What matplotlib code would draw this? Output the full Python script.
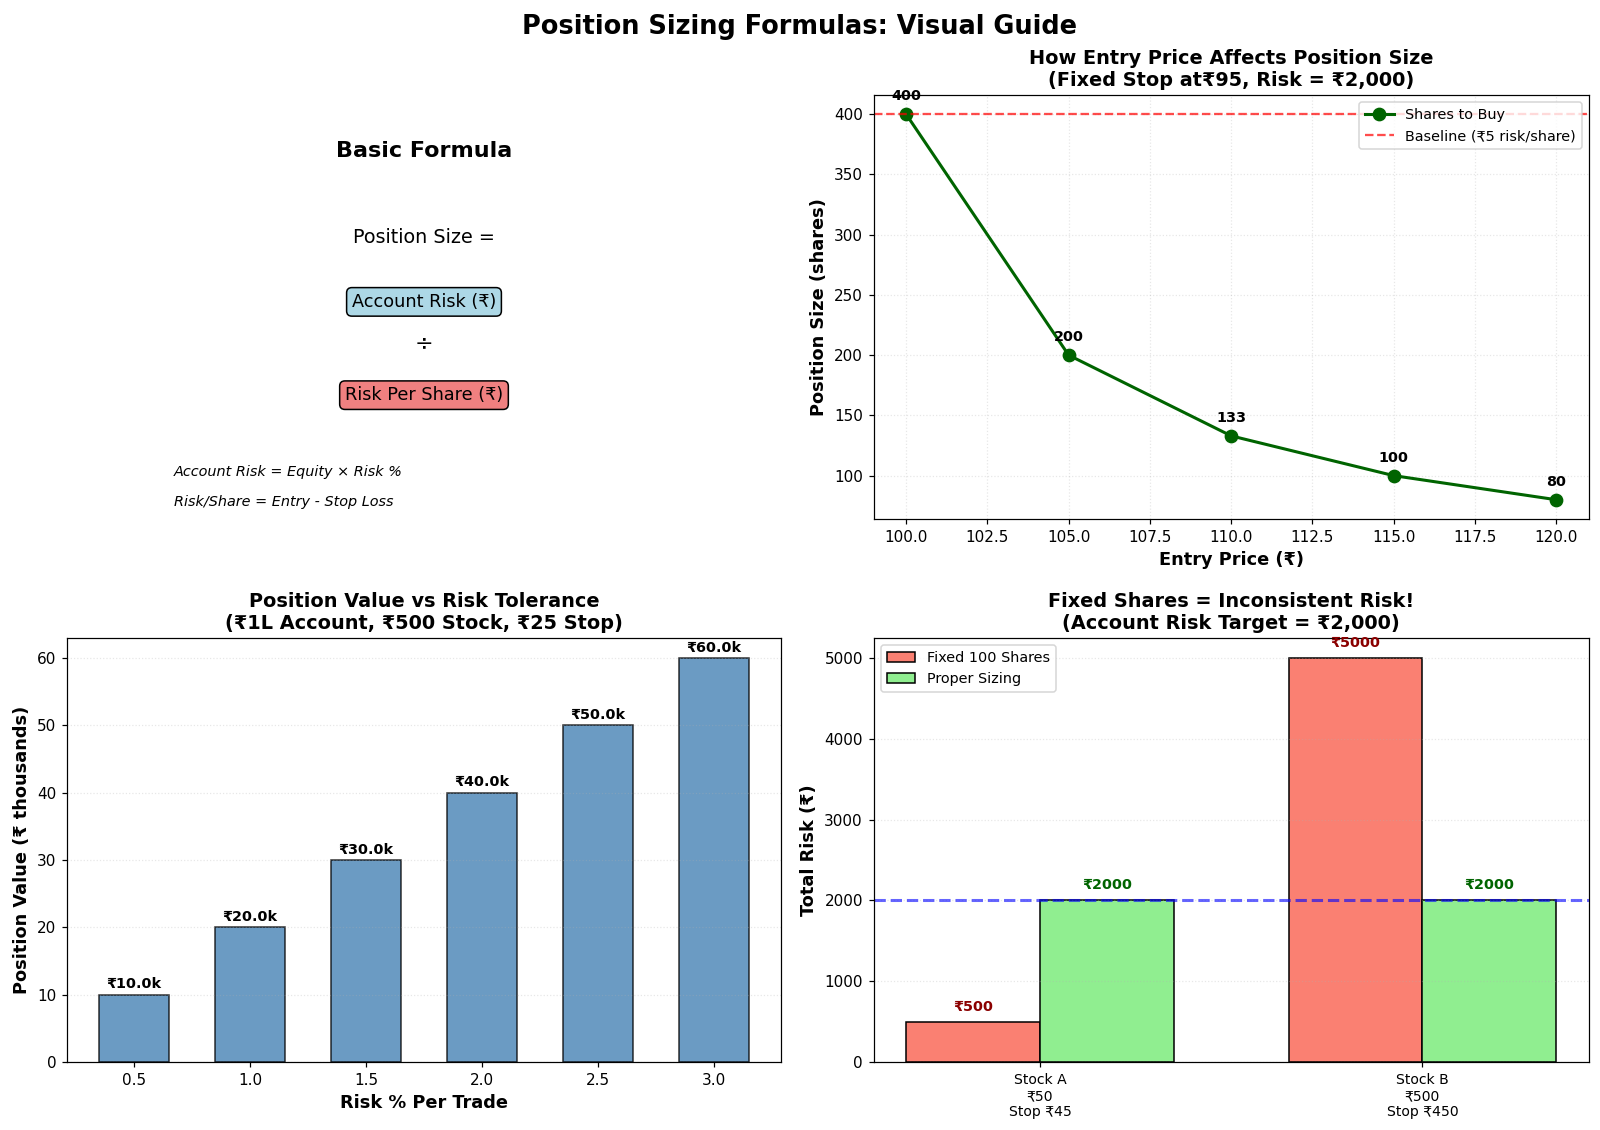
import numpy as np
import matplotlib
matplotlib.use('Agg')
import matplotlib.pyplot as plt

###########################################################
# data

entry_prices = [100, 105, 110, 115, 120]
shares_to_buy = [400, 200, 133, 100, 80]
baseline_shares = 400

risk_pcts = [0.5, 1.0, 1.5, 2.0, 2.5, 3.0]
position_values = [10, 20, 30, 40, 50, 60]  # in thousands

stock_labels = ['Stock A\n₹50\nStop ₹45', 'Stock B\n₹500\nStop ₹450']
fixed_risk = [500, 5000]
proper_risk = [2000, 2000]
risk_target = 2000

###########################################################

plt.rcParams['font.family'] = ['DejaVu Sans']

fig = plt.figure(figsize=(1600 / 110, 1130 / 110), dpi=110)
fig.suptitle('Position Sizing Formulas: Visual Guide', fontsize=16.8, fontweight='bold', y=0.988)

ax1 = fig.add_axes([0.0419, 0.5407, 0.4462, 0.3753])
ax2 = fig.add_axes([0.546, 0.5407, 0.447, 0.3753])
ax3 = fig.add_axes([0.0419, 0.0602, 0.4462, 0.3752])
ax4 = fig.add_axes([0.546, 0.0602, 0.447, 0.3752])

###########################################################
# basic formula panel

ax1.axis('off')
ax1.text(0.5, 0.868, 'Basic Formula', fontsize=14.6, fontweight='bold', ha='center', va='center', transform=ax1.transAxes)
ax1.text(0.5, 0.663, 'Position Size =', fontsize=12.5, ha='center', va='center', transform=ax1.transAxes)
ax1.text(0.5, 0.512, 'Account Risk (₹)', fontsize=11.5, ha='center', va='center', transform=ax1.transAxes,
         bbox=dict(boxstyle='round,pad=0.3', facecolor='lightblue', edgecolor='black'))
ax1.text(0.5, 0.415, '÷', fontsize=14.6, ha='center', va='center', transform=ax1.transAxes)
ax1.text(0.5, 0.292, 'Risk Per Share (₹)', fontsize=11.5, ha='center', va='center', transform=ax1.transAxes,
         bbox=dict(boxstyle='round,pad=0.3', facecolor='lightcoral', edgecolor='black'))
ax1.text(0.15, 0.11, 'Account Risk = Equity × Risk %', fontsize=9.4, style='italic', ha='left', va='center', transform=ax1.transAxes)
ax1.text(0.15, 0.04, 'Risk/Share = Entry - Stop Loss', fontsize=9.4, style='italic', ha='left', va='center', transform=ax1.transAxes)

###########################################################
# entry price vs position size

ax2.plot(entry_prices, shares_to_buy, marker='o', color='darkgreen', linewidth=2, markersize=8, label='Shares to Buy')
ax2.axhline(y=baseline_shares, color='red', linestyle='--', linewidth=1.5, alpha=0.7, label='Baseline (₹5 risk/share)')
for x, s in zip(entry_prices, shares_to_buy):
    ax2.annotate(f'{int(s)}', (x, s), textcoords='offset points', xytext=(0, 9),
                 ha='center', fontsize=9.4, fontweight='bold')
ax2.set_title('How Entry Price Affects Position Size\n(Fixed Stop at₹95, Risk = ₹2,000)', fontsize=12.6, fontweight='bold')
ax2.set_xlabel('Entry Price (₹)', fontsize=11.6, fontweight='bold')
ax2.set_ylabel('Position Size (shares)', fontsize=11.6, fontweight='bold')
ax2.legend(loc='upper right', fontsize=9.4)
ax2.grid(True, alpha=0.3, linestyle=':')

###########################################################
# position value vs risk tolerance

ax3.bar(risk_pcts, position_values, width=0.3, color='steelblue', alpha=0.8, edgecolor='black')
for x, v in zip(risk_pcts, position_values):
    ax3.text(x, v + 0.5, f'₹{v:.1f}k', ha='center', va='bottom', fontsize=9.4, fontweight='bold')
ax3.set_xticks(risk_pcts)
ax3.set_title('Position Value vs Risk Tolerance\n(₹1L Account, ₹500 Stock, ₹25 Stop)', fontsize=12.6, fontweight='bold')
ax3.set_xlabel('Risk % Per Trade', fontsize=11.6, fontweight='bold')
ax3.set_ylabel('Position Value (₹ thousands)', fontsize=11.6, fontweight='bold')
ax3.grid(True, axis='y', alpha=0.3, linestyle=':')

###########################################################
# fixed shares vs proper sizing

x = np.arange(len(stock_labels))
w = 0.35
ax4.bar(x - w / 2, fixed_risk, w, color='salmon', edgecolor='black', label='Fixed 100 Shares')
ax4.bar(x + w / 2, proper_risk, w, color='lightgreen', edgecolor='black', label='Proper Sizing')
ax4.axhline(y=risk_target, color='blue', linestyle='--', linewidth=2, alpha=0.6)
for i in range(len(stock_labels)):
    ax4.text(x[i] - w / 2, fixed_risk[i] + 100, f'₹{fixed_risk[i]}', ha='center', va='bottom',
             fontsize=9.4, fontweight='bold', color='darkred')
    ax4.text(x[i] + w / 2, proper_risk[i] + 100, f'₹{proper_risk[i]}', ha='center', va='bottom',
             fontsize=9.4, fontweight='bold', color='darkgreen')
ax4.set_xticks(x)
ax4.set_xticklabels(stock_labels, fontsize=9.2)
ax4.set_title('Fixed Shares = Inconsistent Risk!\n(Account Risk Target = ₹2,000)', fontsize=12.6, fontweight='bold')
ax4.set_ylabel('Total Risk (₹)', fontsize=11.6, fontweight='bold')
ax4.legend(loc='upper left', fontsize=9.4)
ax4.grid(True, axis='y', alpha=0.3, linestyle=':')

plt.savefig('out.png', dpi=110)
